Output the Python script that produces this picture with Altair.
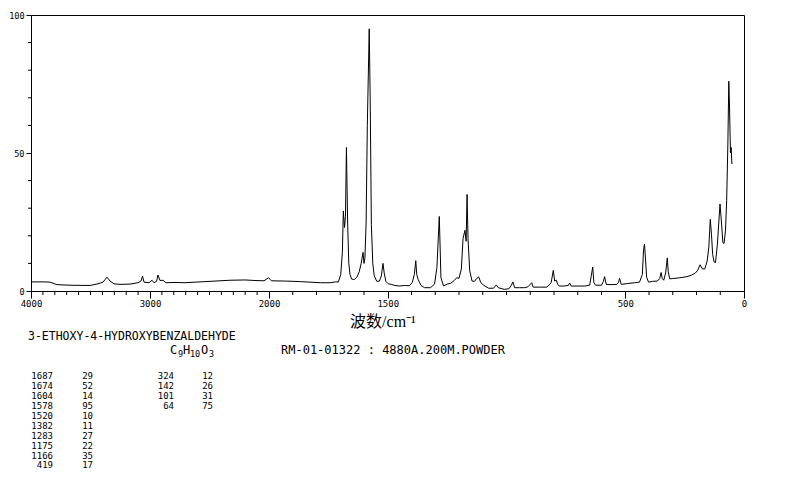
import altair as alt
import pandas as pd

# Raman spectrum (wavenumber cm-1, relative intensity)
wavenumber = [
    4000, 3882, 3840, 3782, 3672, 3504, 3437, 3395, 3361, 3336, 3302, 3252,
    3168, 3101, 3076, 3063, 3050, 3008, 2983, 2966, 2945, 2933, 2916, 2891,
    2866, 2790, 2706, 2580, 2454, 2328, 2202, 2118, 2042, 2004, 1990, 1931,
    1868, 1784, 1742, 1721, 1708, 1698, 1691, 1687, 1682, 1678, 1674, 1669,
    1664, 1659, 1652, 1640, 1630, 1620, 1612, 1604, 1600, 1596, 1591, 1586,
    1578, 1574, 1569, 1563, 1557, 1546, 1535, 1527, 1520, 1515, 1508, 1498,
    1485, 1470, 1450, 1430, 1410, 1397, 1388, 1382, 1378, 1372, 1360, 1345,
    1320, 1303, 1293, 1283, 1276, 1265, 1250, 1235, 1220, 1210, 1200, 1190,
    1183, 1175, 1170, 1166, 1162, 1155, 1145, 1135, 1125, 1117, 1108, 1095,
    1075, 1055, 1043, 1035, 1010, 990, 980, 973, 966, 945, 925, 910,
    898, 894, 888, 860, 830, 812, 803, 797, 790, 785, 778, 760,
    740, 734, 728, 700, 670, 650, 643, 637, 632, 625, 600, 592,
    587, 580, 560, 535, 528, 524, 517, 490, 460, 440, 428, 423,
    419, 415, 410, 402, 385, 365, 355, 349, 344, 338, 330, 323,
    319, 313, 300, 270, 240, 220, 205, 195, 185, 175, 165, 155,
    148, 142, 137, 132, 126, 120, 112, 101, 95, 89, 84, 78,
    73, 68, 64, 61, 57, 54, 51,
]
intensity = [
    3.3, 3.3, 3.2, 2.3, 2.1, 2.0, 2.6, 3.2, 5.0, 3.6, 2.6, 2.4,
    2.5, 3.0, 3.6, 5.4, 3.2, 3.0, 3.9, 3.0, 3.5, 5.8, 3.8, 3.9,
    3.0, 3.1, 3.0, 3.3, 3.6, 3.9, 4.0, 3.8, 3.7, 4.8, 3.7, 3.6,
    3.4, 3.0, 3.0, 3.3, 3.3, 6.0, 14.0, 29.0, 23.0, 27.0, 52.0, 25.0,
    10.0, 6.0, 4.3, 4.2, 5.0, 7.0, 10.0, 14.0, 10.0, 12.0, 25.0, 60.0,
    95.0, 70.0, 24.0, 10.0, 5.5, 3.5, 3.6, 5.5, 10.0, 6.5, 3.5, 2.6,
    2.4, 2.0, 1.8, 2.0, 1.9, 3.0, 6.0, 11.0, 6.0, 4.2, 2.0, 1.2,
    1.2, 2.5, 8.5, 27.0, 4.8, 1.8, 2.5, 2.8, 3.8, 4.8, 4.6, 8.0,
    19.0, 22.0, 18.0, 35.0, 19.0, 7.3, 3.6, 3.5, 4.6, 5.1, 3.0, 2.0,
    1.0, 1.0, 2.2, 1.2, 0.6, 0.8, 2.0, 3.3, 1.2, 1.2, 1.2, 1.5,
    2.6, 3.0, 1.4, 1.4, 1.4, 3.0, 7.5, 3.6, 3.9, 2.5, 1.8, 1.8,
    2.0, 2.9, 1.8, 1.8, 1.8, 2.1, 5.5, 8.7, 3.0, 2.1, 2.1, 3.5,
    5.2, 2.4, 2.3, 2.4, 3.2, 4.6, 2.4, 2.7, 3.0, 3.2, 6.0, 15.0,
    17.0, 12.0, 5.0, 3.2, 3.5, 3.6, 4.5, 6.7, 4.5, 3.9, 6.5, 12.0,
    7.0, 4.4, 4.5, 4.8, 5.2, 5.8, 6.5, 7.5, 9.5, 8.0, 8.0, 10.9,
    16.0, 26.0, 20.6, 13.3, 10.5, 10.3, 17.0, 31.5, 25.0, 17.5, 17.2, 21.8,
    32.7, 53.0, 76.0, 67.0, 50.0, 52.0, 46.0,
]

# axis ticks
x_major = [4000, 3000, 2000, 1500, 500, 0]
x_minor = [v for v in range(0, 4001, 100) if v not in x_major]
y_major = [0, 50, 100]
y_minor = [10, 20, 30, 40, 60, 70, 80, 90]

# annotation texts
compound = "3-ETHOXY-4-HYDROXYBENZALDEHYDE"
formula_parts = [("C", ""), ("9", "sub"), ("H", ""), ("10", "sub"), ("O", ""), ("3", "sub")]
formula_x = [139, 147, 152, 159, 170, 178]
sample = "RM-01-01322 : 4880A.200M.POWDER"
x_title = "波数/cm\u207b\u00b9"

# peak table
peak_wn_1 = ["1687", "1674", "1604", "1578", "1520", "1382", "1283", "1175", "1166", "419"]
peak_int_1 = ["29", "52", "14", "95", "10", "11", "27", "22", "35", "17"]
peak_wn_2 = ["324", "142", "101", "64"]
peak_int_2 = ["12", "26", "31", "75"]

MONO = "DejaVu Sans Mono"
W, H = 713, 276

df = pd.DataFrame({"wn": wavenumber, "I": intensity})

xscale = alt.Scale(domain=[4000, 2000, 0], range=[0, 238, W], nice=False, zero=False)
yscale = alt.Scale(domain=[0, 100], nice=False, zero=True)

common_axis = dict(grid=False, domainColor="black", tickColor="black",
                   labelColor="black", labelFont=MONO,
                   labelFlush=False, labelOverlap=False, title=None)

line = alt.Chart(df).mark_line(color="black", strokeWidth=1).encode(
    x=alt.X("wn:Q", scale=xscale,
            axis=alt.Axis(values=x_major, tickSize=7, labelPadding=1,
                          labelFontSize=9, orient="bottom", format="d",
                          **common_axis)),
    y=alt.Y("I:Q", scale=yscale,
            axis=alt.Axis(values=y_major, tickSize=5, labelPadding=2,
                          labelFontSize=8.5, orient="left", format="d",
                          **common_axis)),
)

# minor tick marks along the axes
xminor_df = pd.DataFrame({"wn": x_minor})
yminor_df = pd.DataFrame({"I": y_minor})
xminor = alt.Chart(xminor_df).mark_rule(color="black", strokeWidth=1).encode(
    x=alt.X("wn:Q", scale=xscale),
    y=alt.value(H), y2=alt.value(H + 4),
)
yminor = alt.Chart(yminor_df).mark_rule(color="black", strokeWidth=1).encode(
    y=alt.Y("I:Q", scale=yscale),
    x=alt.value(-3), x2=alt.value(0),
)

one = pd.DataFrame({"k": [0]})


def txt(text, x, y, size, align="left", font=MONO, lh=None):
    kw = dict(align=align, baseline="alphabetic", font=font, fontSize=size,
              color="black")
    if lh is not None:
        kw.update(lineBreak="\n", lineHeight=lh)
    return alt.Chart(one).mark_text(**kw).encode(
        x=alt.value(x), y=alt.value(y), text=alt.value(text))


layers = [
    line, xminor, yminor,
    txt(x_title, 352, 312, 16, align="center",
        font='"Liberation Serif", "Noto Sans CJK SC"'),
    txt(compound, -3, 324.5, 11.5),
    txt(sample, 250, 338.5, 12),
    txt("\n".join(peak_wn_1), 22, 364, 9, align="right", lh=9.94),
    txt("\n".join(peak_int_1), 62, 364, 9, align="right", lh=9.94),
    txt("\n".join(peak_wn_2), 143, 364, 9, align="right", lh=9.94),
    txt("\n".join(peak_int_2), 182, 364, 9, align="right", lh=9.94),
]
for (part, kind), px in zip(formula_parts, formula_x):
    if kind == "sub":
        layers.append(txt(part, px, 341.5, 8.5))
    else:
        layers.append(txt(part, px, 338.5, 12))

chart = alt.layer(*layers).properties(
    width=W, height=H,
    padding={"left": 23, "top": 7, "right": 40, "bottom": 185},
    autosize=alt.AutoSizeParams(type="none"),
    background="white",
).configure_view(stroke="black", strokeWidth=1)

chart.save("out.html", embed_options={"renderer": "svg", "actions": False})
